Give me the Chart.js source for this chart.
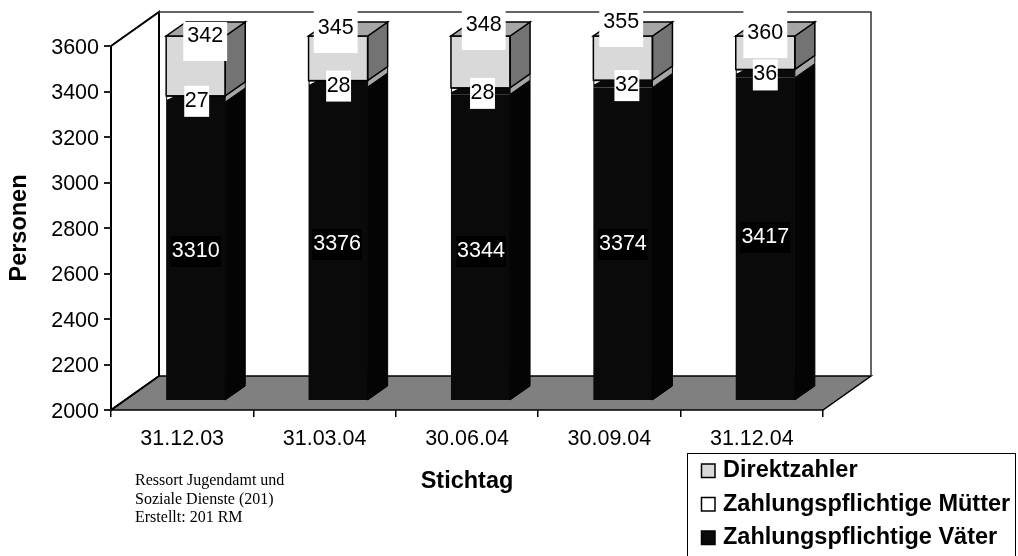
<!DOCTYPE html>
<html>
<head>
<meta charset="utf-8">
<style>
  html, body { margin: 0; padding: 0; background: #fff; overflow: hidden; }
  #wrap { position: relative; width: 1018px; height: 556px; }
</style>
<script src="https://cdn.jsdelivr.net/npm/chart.js@4"></script>
</head>
<body>
<div id="wrap"><canvas id="chart" width="1018" height="556"></canvas></div>
<script>
const categories = ["31.12.03", "31.03.04", "30.06.04", "30.09.04", "31.12.04"];
const vaeter = [3310, 3376, 3344, 3374, 3417];
const muetter = [27, 28, 28, 32, 36];
const direktzahler = [342, 345, 348, 355, 360];
const sourceNote = ["Ressort Jugendamt und", "Soziale Dienste (201)", "Erstellt: 201 RM"];

const FONT = "'Liberation Sans', Arial, sans-serif";
const WALL = { dx: 48, dy: -34 };      // depth of the whole floor
const BAR_FRONT = { dx: 13.5, dy: -10 }; // where the bars start inside that depth
const BAR_DEPTH = { dx: 20, dy: -14 };

// the original label placement is uneven, so it is kept per column
const labelPlace = {
  "Zahlungspflichtige Väter":  { dx: [0, -1, 0.5, 0, 0], y: [250, 243, 250, 243, 236], up: [14, 14, 14, 14, 14], down: 17, pad: 1 },
  "Zahlungspflichtige Mütter": { dx: [1, 0.5, 2, 4, 0], up: [14, 14, 14, 14, 14], down: 17, pad: 0.5 },
  "Direktzahler":              { dx: [9.5, -2.4, 3.2, -1.7, 0], y: [35, 27, 24, 21, 32], up: [13, 18, 15, 15, 23], down: 26, pad: 4 },
};

function poly(ctx, pts, fill, stroke, lw) {
  ctx.beginPath();
  pts.forEach((p, i) => i ? ctx.lineTo(p[0], p[1]) : ctx.moveTo(p[0], p[1]));
  ctx.closePath();
  if (fill) { ctx.fillStyle = fill; ctx.fill(); }
  if (stroke) { ctx.strokeStyle = stroke; ctx.lineWidth = lw || 1; ctx.stroke(); }
}

/** Back wall, side wall and floor behind the bars, then the 3d faces of the bars */
const box3d = {
  id: "box3d",
  beforeDatasetsDraw(chart) {
    const { ctx, chartArea: a } = chart;
    const d = WALL;
    ctx.save();
    poly(ctx, [[a.left, a.bottom], [a.right, a.bottom], [a.right + d.dx, a.bottom + d.dy], [a.left + d.dx, a.bottom + d.dy]], "#808080", "#000", 1.5);
    poly(ctx, [[a.left, a.bottom], [a.left, a.top], [a.left + d.dx, a.top + d.dy], [a.left + d.dx, a.bottom + d.dy]], null, "#000", 2);
    ctx.beginPath();
    ctx.moveTo(a.left + d.dx, a.top + d.dy);
    ctx.lineTo(a.right + d.dx, a.top + d.dy);
    ctx.lineTo(a.right + d.dx, a.bottom + d.dy);
    ctx.strokeStyle = "#333";
    ctx.lineWidth = 1.5;
    ctx.stroke();
    ctx.restore();
    // bars sit a little way into the depth, their clip moves with them
    ctx.save();
    ctx.translate(BAR_FRONT.dx, BAR_FRONT.dy);
  },
  afterDatasetsDraw(chart) {
    const { ctx, chartArea: a } = chart;
    const d = BAR_DEPTH;
    chart.data.datasets.forEach((ds, i) => {
      chart.getDatasetMeta(i).data.forEach(bar => {
        const right = bar.x + bar.width / 2, left = bar.x - bar.width / 2;
        const top = Math.max(bar.y, a.top), base = Math.min(bar.base, a.bottom);
        poly(ctx, [[right, base], [right, top], [right + d.dx, top + d.dy], [right + d.dx, base + d.dy]], ds.sideColor, ds.edgeColor, ds.edgeWidth);
        if (ds.label === "Direktzahler") {
          // front outline and the lid, the stack is cut off at the axis maximum
          ctx.strokeStyle = "#000";
          ctx.lineWidth = 1.5;
          ctx.strokeRect(left, top, bar.width, base - top);
          poly(ctx, [[left, top], [right, top], [right + d.dx, top + d.dy], [left + d.dx, top + d.dy]], ds.topColor, "#000", 1.5);
        }
        if (ds.label === "Zahlungspflichtige Mütter") {
          // little white corner left of the label
          poly(ctx, [[left + 1, top + 1], [left + 7, top + 1], [left + 1, top + 4]], "#fff");
        }
      });
    });
    ctx.restore();
  },
};

/** Value labels, white or black box behind the number like the original */
const valueLabels = {
  id: "valueLabels",
  afterDraw(chart) {
    const { ctx, chartArea: a, scales: { y } } = chart;
    ctx.save();
    // value axis tick marks
    y.ticks.forEach((t, i) => {
      const py = Math.round(y.getPixelForTick(i));
      ctx.fillStyle = "#222";
      ctx.fillRect(a.left - 7, py - 1, 7, 2);
    });
    ctx.font = "21.5px " + FONT;
    ctx.textAlign = "center";
    ctx.textBaseline = "middle";
    chart.data.datasets.forEach((ds, i) => {
      const place = labelPlace[ds.label];
      chart.getDatasetMeta(i).data.forEach((bar, j) => {
        const txt = String(ds.data[j]);
        const w = ctx.measureText(txt).width;
        const cx = bar.x + BAR_FRONT.dx + place.dx[j];
        const cy = place.y ? place.y[j] : bar.y + BAR_FRONT.dy + 4;
        ctx.fillStyle = ds.boxColor;
        ctx.fillRect(cx - w / 2 - place.pad, cy - place.up[j], w + 2 * place.pad, place.up[j] + place.down);
        ctx.fillStyle = ds.textColor;
        ctx.fillText(txt, cx, cy + 1);
      });
    });
    ctx.restore();
  },
};

/** Source note and the legend box at the bottom right */
const furniture = {
  id: "furniture",
  afterDraw(chart) {
    const { ctx } = chart;
    ctx.save();
    ctx.fillStyle = "#000";
    ctx.textBaseline = "middle";
    ctx.font = "16px 'Liberation Serif', 'Times New Roman', serif";
    sourceNote.forEach((t, i) => ctx.fillText(t, 135, 481 + i * 18.5));

    ctx.fillStyle = "#fff";
    ctx.fillRect(687.5, 453.5, 328, 110);
    ctx.strokeStyle = "#000";
    ctx.lineWidth = 1;
    ctx.strokeRect(687.5, 453.5, 328, 110);

    ctx.font = "bold 23.5px " + FONT;
    [...chart.data.datasets].reverse().forEach((ds, i) => {
      const cy = 471 + i * 33.5;
      ctx.fillStyle = ds.legendColor;
      ctx.strokeStyle = "#000";
      ctx.lineWidth = 1.5;
      ctx.fillRect(701.5, cy - 7, 13.5, 13.5);
      ctx.strokeRect(701.5, cy - 7, 13.5, 13.5);
      ctx.fillStyle = "#000";
      ctx.fillText(ds.label, 723, cy);
    });
    ctx.restore();
  },
};

new Chart(document.getElementById("chart"), {
  type: "bar",
  data: {
    labels: categories,
    datasets: [
      {
        label: "Zahlungspflichtige Väter", data: vaeter,
        backgroundColor: "#0a0a0a", legendColor: "#0a0a0a", sideColor: "#040404", edgeColor: "#000", edgeWidth: 1,
        textColor: "#fff", boxColor: "#000",
      },
      {
        label: "Zahlungspflichtige Mütter", data: muetter,
        backgroundColor: "#0a0a0a", legendColor: "#fff", sideColor: "#a6a6a6", edgeColor: "#000", edgeWidth: 1,
        textColor: "#000", boxColor: "#fff",
      },
      {
        label: "Direktzahler", data: direktzahler,
        backgroundColor: "#d9d9d9", legendColor: "#d9d9d9", sideColor: "#737373", topColor: "#a6a6a6", edgeColor: "#000", edgeWidth: 1.5,
        textColor: "#000", boxColor: "#fff",
      },
    ],
  },
  options: {
    responsive: false,
    animation: false,
    layout: { padding: { left: 0, top: 46, right: 195, bottom: 0 } },
    datasets: { bar: { categoryPercentage: 1, barPercentage: 0.415, borderWidth: 0 } },
    scales: {
      x: {
        stacked: true,
        afterFit(s) { s.height = 146; },
        grid: { drawOnChartArea: false, color: "#000", lineWidth: 1.5, tickLength: 7, offset: true },
        border: { display: false },
        ticks: { color: "#000", font: { family: FONT, size: 21.5 }, padding: 9, maxRotation: 0 },
        title: { display: true, text: "Stichtag", color: "#000", font: { family: FONT, size: 23.5, weight: "bold" }, padding: { bottom: 60, top: 0 } },
      },
      y: {
        stacked: true, min: 2000, max: 3600,
        afterFit(s) { s.width = 111; },
        grid: { display: false },
        border: { display: false },
        ticks: { stepSize: 200, color: "#000", font: { family: FONT, size: 21.5 }, padding: 4, labelOffset: 2, callback: v => String(v) },
        title: { display: true, text: "Personen", color: "#000", font: { family: FONT, size: 23.5, weight: "bold" }, padding: { top: 5 } },
      },
    },
    plugins: { legend: { display: false }, tooltip: { enabled: false } },
  },
  plugins: [box3d, valueLabels, furniture],
});
</script>
</body>
</html>
